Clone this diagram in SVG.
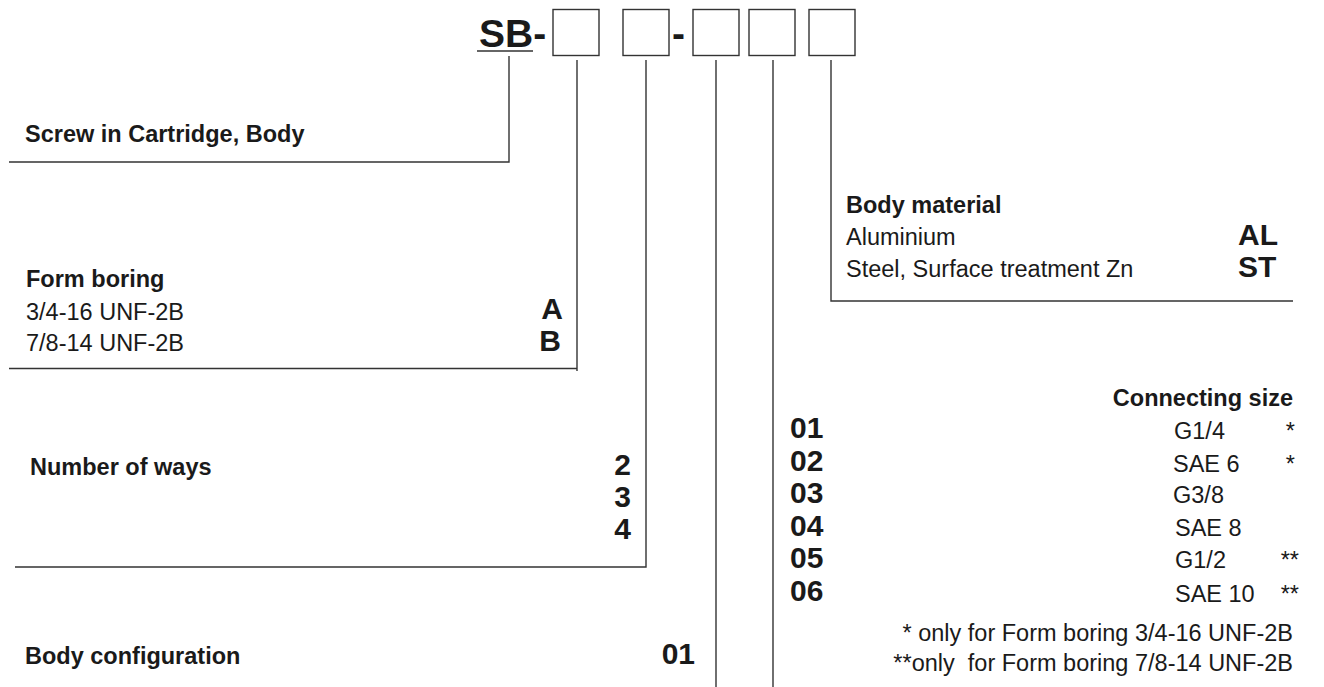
<svg xmlns="http://www.w3.org/2000/svg" width="1324" height="687" viewBox="0 0 1324 687">
<style>
text{font-family:"Liberation Sans",Arial,Helvetica,sans-serif;fill:#1a1a1a}
.b{font-weight:bold;font-size:23.5px}
.r{font-size:23.5px}
.c{font-weight:bold;font-size:30px}
.e{text-anchor:end}
.ln{stroke:#333;stroke-width:1.4;fill:none}
.box{stroke:#333;stroke-width:1.4;fill:#fff}
</style>
<rect width="1324" height="687" fill="#fff"/>
<g id="code">
<text x="479" y="46.5" style="font-weight:bold;font-size:39px">SB-</text>
<line class="ln" x1="477" y1="51" x2="533" y2="51"/>
<rect class="box" x="553" y="9.5" width="46" height="46"/>
<rect class="box" x="623" y="9.5" width="46" height="46"/>
<text x="672" y="46.5" style="font-weight:bold;font-size:39px">-</text>
<rect class="box" x="693" y="9.5" width="46" height="46"/>
<rect class="box" x="749" y="9.5" width="46" height="46"/>
<rect class="box" x="809" y="9.5" width="46" height="46"/>
</g>
<g id="connectors">
<polyline class="ln" points="509,56 509,162 9,162"/>
<polyline class="ln" points="577,60 577,371"/>
<line class="ln" x1="9" y1="368.5" x2="577" y2="368.5"/>
<polyline class="ln" points="646,60 646,567 15,567"/>
<line class="ln" x1="716" y1="60" x2="716" y2="687"/>
<line class="ln" x1="773" y1="60" x2="773" y2="687"/>
<polyline class="ln" points="831,60 831,301 1293,301"/>
</g>
<g id="screw">
<text class="b" x="25" y="142">Screw in Cartridge, Body</text>
</g>
<g id="form-boring">
<text class="b" x="26" y="287">Form boring</text>
<text class="r" x="26" y="319.5">3/4-16 UNF-2B</text>
<text class="r" x="26" y="351">7/8-14 UNF-2B</text>
<text class="c e" x="563" y="319">A</text>
<text class="c e" x="561" y="351">B</text>
</g>
<g id="ways">
<text class="b" x="30" y="474.5">Number of ways</text>
<text class="c e" x="631" y="474.5">2</text>
<text class="c e" x="631" y="506.5">3</text>
<text class="c e" x="631" y="539">4</text>
</g>
<g id="config">
<text class="b" x="25" y="664">Body configuration</text>
<text class="c e" x="695" y="664">01</text>
</g>
<g id="material">
<text class="b" x="846" y="213">Body material</text>
<text class="r" x="846" y="245">Aluminium</text>
<text class="r" x="846" y="277">Steel, Surface treatment Zn</text>
<text class="c" x="1238" y="245">AL</text>
<text class="c" x="1238" y="277">ST</text>
</g>
<g id="connecting">
<text class="b e" x="1293" y="406">Connecting size</text>
<text class="c" x="790" y="438">01</text>
<text class="c" x="790" y="471">02</text>
<text class="c" x="790" y="503">03</text>
<text class="c" x="790" y="535.5">04</text>
<text class="c" x="790" y="568">05</text>
<text class="c" x="790" y="601">06</text>
<text class="r" x="1174" y="439">G1/4</text>
<text class="r" x="1173" y="471.5">SAE 6</text>
<text class="r" x="1173" y="503">G3/8</text>
<text class="r" x="1175" y="535.5">SAE 8</text>
<text class="r" x="1175" y="568">G1/2</text>
<text class="r" x="1175" y="601.5">SAE 10</text>
<text class="r e" x="1295" y="439">*</text>
<text class="r e" x="1295" y="471.5">*</text>
<text class="r e" x="1299" y="568">**</text>
<text class="r e" x="1299" y="601.5">**</text>
<text class="r e" x="1293" y="641">* only for Form boring 3/4-16 UNF-2B</text>
<text class="r e" x="1293" y="671" xml:space="preserve">**only  for Form boring 7/8-14 UNF-2B</text>
</g>
</svg>
